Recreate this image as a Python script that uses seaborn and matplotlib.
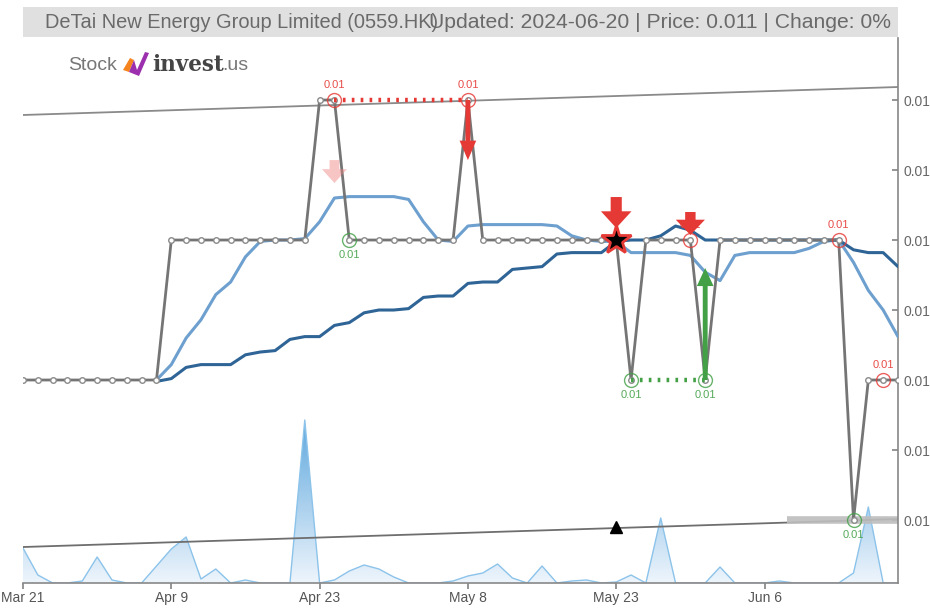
import numpy as np
import pandas as pd
import seaborn as sns
import matplotlib.pyplot as plt
from matplotlib.patches import Rectangle, Polygon
from matplotlib.colors import LinearSegmentedColormap

# ==========================================
# DATA
# ==========================================

tick_days = [0, 10, 20, 30, 40, 50]
tick_labels = ["Mar 21", "Apr 9", "Apr 23", "May 8", "May 23", "Jun 6"]

price = [
    0.011, 0.011, 0.011, 0.011, 0.011, 0.011, 0.011, 0.011, 0.011, 0.011,
    0.012, 0.012, 0.012, 0.012, 0.012, 0.012, 0.012, 0.012, 0.012, 0.012,
    0.013, 0.013, 0.012, 0.012, 0.012, 0.012, 0.012, 0.012, 0.012, 0.012,
    0.013, 0.012, 0.012, 0.012, 0.012, 0.012, 0.012, 0.012, 0.012, 0.012,
    0.012, 0.011, 0.012, 0.012, 0.012, 0.012, 0.011, 0.012, 0.012, 0.012,
    0.012, 0.012, 0.012, 0.012, 0.012, 0.012, 0.010, 0.011, 0.011, 0.011,
]

# moving averages start at day 9
ma_start = 9
ma_short = [
    0.01100, 0.01111, 0.01130, 0.01143, 0.01161, 0.01170, 0.01188, 0.01199,
    0.01200, 0.01200, 0.01201, 0.01213, 0.01230, 0.01231, 0.01231, 0.01231,
    0.01231, 0.01229, 0.01213, 0.01200, 0.01199, 0.01210, 0.01211, 0.01211,
    0.01211, 0.01211, 0.01211, 0.01210, 0.01203, 0.01200, 0.01199, 0.01199,
    0.01191, 0.01191, 0.01191, 0.01191, 0.01189, 0.01177, 0.01171, 0.01189,
    0.01191, 0.01191, 0.01191, 0.01191, 0.01194, 0.01199, 0.01200, 0.01184,
    0.01164, 0.01150, 0.01131,
]
ma_long = [
    0.01099, 0.01101, 0.01109, 0.01111, 0.01111, 0.01111, 0.01118, 0.01120,
    0.01121, 0.01129, 0.01131, 0.01131, 0.01139, 0.01141, 0.01148, 0.01150,
    0.01150, 0.01151, 0.01159, 0.01160, 0.01160, 0.01169, 0.01170, 0.01170,
    0.01179, 0.01180, 0.01181, 0.01190, 0.01191, 0.01191, 0.01191, 0.01199,
    0.01200, 0.01200, 0.01203, 0.01210, 0.01207, 0.01200, 0.01200, 0.01200,
    0.01200, 0.01200, 0.01200, 0.01200, 0.01200, 0.01200, 0.01200, 0.01193,
    0.01191, 0.01191, 0.01181,
]

# volume, millions of shares
volume = [
    3.5, 0.8, 0.0, 0.0, 0.2, 2.6, 0.3, 0.0, 0.0, 1.7,
    3.4, 4.6, 0.4, 1.4, 0.0, 0.3, 0.0, 0.0, 0.0, 16.3,
    0.0, 0.3, 1.2, 1.8, 1.4, 0.6, 0.0, 0.0, 0.0, 0.2,
    0.7, 1.0, 1.9, 0.5, 0.0, 1.7, 0.0, 0.2, 0.3, 0.0,
    0.1, 0.8, 0.0, 6.5, 0.0, 0.0, 0.0, 1.6, 0.0, 0.0,
    0.0, 0.2, 0.0, 0.0, 0.0, 0.0, 1.0, 7.6, 0.0, 0.0,
]

# trend channel (start / end values)
upper_trend = [0.012893, 0.013093]
lower_trend = [0.009807, 0.010007]
support_level = 0.0100
support_from = 51.5

high_days = [21, 30, 45, 55, 58]
low_days = [22, 41, 46, 56]

star_day = 40
triangle_day = 40
triangle_value = 0.00995

days = list(range(len(price)))
df = pd.DataFrame({"day": days, "price": price, "volume": volume})
df_ma = pd.DataFrame({
    "day": list(range(ma_start, ma_start + len(ma_short))),
    "short": ma_short,
    "long": ma_long,
})

RED = "#e53935"
GREEN = "#43a047"
GRAY = "#757575"

# ==========================================
# FIGURE
# ==========================================

sns.set_theme(style="white")
plt.rcParams["font.family"] = ["Liberation Sans", "DejaVu Sans"]

fig = plt.figure(figsize=(9.3, 6.08), dpi=100)
ax = fig.add_axes([23 / 930, 25 / 608, 875 / 930, 545 / 608])
ax_vol = ax.twinx()
ax.set_zorder(ax_vol.get_zorder() + 1)
ax.patch.set_visible(False)

# ---------- volume ----------
fill = ax_vol.fill_between(df["day"], df["volume"], 0,
                           facecolor="none", edgecolor="none")
cmap = LinearSegmentedColormap.from_list("vol", ["#eef5fc", "#5fa8de"])
grad = np.linspace(0, 1, 256).reshape(-1, 1)
im = ax_vol.imshow(grad, extent=[0, 59, 0, max(volume)], origin="lower",
                   aspect="auto", cmap=cmap, zorder=1)
im.set_clip_path(fill.get_paths()[0], transform=ax_vol.transData)
sns.lineplot(data=df, x="day", y="volume", ax=ax_vol,
             color="#8cc3ea", linewidth=1.0, zorder=2)
ax_vol.set_ylim(0, max(volume) * 545 / 163)
ax_vol.set_xlim(0, 59)
ax_vol.set_yticks([])
ax_vol.set_ylabel("")
for s in ax_vol.spines.values():
    s.set_visible(False)

# ---------- trend lines ----------
ax.plot([0, 59], upper_trend, color="#8a8a8a", linewidth=1.3, zorder=2)
ax.plot([0, 59], lower_trend, color="#6e6e6e", linewidth=1.3, zorder=2)
ax.plot([support_from, 59], [support_level, support_level],
        color="#bdbdbd", linewidth=5.5, alpha=0.9, zorder=2,
        solid_capstyle="butt")

# ---------- moving averages ----------
sns.lineplot(data=df_ma, x="day", y="short", ax=ax,
             color="#6d9fcf", linewidth=2.2, zorder=3)
sns.lineplot(data=df_ma, x="day", y="long", ax=ax,
             color="#2f6496", linewidth=2.2, zorder=3)

# ---------- price ----------
sns.lineplot(data=df, x="day", y="price", ax=ax, color=GRAY,
             linewidth=2.0, marker="o", markersize=4,
             markerfacecolor="white", markeredgecolor="#8a8a8a",
             markeredgewidth=1.0, zorder=4)

# ---------- swing highs / lows ----------
ax.plot([high_days[0], high_days[1]], [price[high_days[0]], price[high_days[1]]],
        color=RED, linewidth=3.2, linestyle=(0, (0.6, 1.4)), zorder=5)
ax.plot([low_days[1], low_days[2]], [price[low_days[1]], price[low_days[2]]],
        color=GREEN, linewidth=3.2, linestyle=(0, (0.6, 1.4)), zorder=5)

for d in high_days:
    ax.plot(d, price[d], marker="o", markersize=10, markerfacecolor="none",
            markeredgecolor=RED, markeredgewidth=1.0, alpha=0.8, zorder=6)
    ax.annotate("0.01", (d, price[d]), xytext=(0, 7),
                textcoords="offset points", ha="center", va="bottom",
                fontsize=8, color=RED, alpha=0.9, zorder=6)
for d in low_days:
    ax.plot(d, price[d], marker="o", markersize=10, markerfacecolor="none",
            markeredgecolor=GREEN, markeredgewidth=1.0, alpha=0.8, zorder=6)
    ax.annotate("0.01", (d, price[d]), xytext=(0, -7),
                textcoords="offset points", ha="center", va="top",
                fontsize=8, color=GREEN, alpha=0.9, zorder=6)

# ---------- signal arrows ----------
def arrow(x, y_from, y_to, color, hl, hw, tw, alpha=1.0):
    ax.annotate("", xy=(x, y_to), xytext=(x, y_from),
                arrowprops=dict(arrowstyle=f"simple,head_length={hl},"
                                f"head_width={hw},tail_width={tw}",
                                color=color, alpha=alpha, mutation_scale=1,
                                shrinkA=0, shrinkB=0, linewidth=0),
                zorder=7)

arrow(21, 0.012571, 0.012407, "#f08080", 10, 18, 7, alpha=0.45)
arrow(30, 0.013, 0.012571, RED, 14, 12, 3.5)
arrow(40, 0.012307, 0.012086, RED, 12, 22, 8)
arrow(45, 0.012200, 0.012036, RED, 11, 21, 7.5)
arrow(46, 0.011, 0.0118, GREEN, 13, 12, 3.5)

ax.plot(star_day, price[star_day], marker="*", markersize=22,
        markerfacecolor="black", markeredgecolor=RED, markeredgewidth=2.0,
        zorder=8)
ax.plot(triangle_day, triangle_value, marker="^", markersize=8,
        color="black", zorder=8)

# ---------- axes styling ----------
ax.set_xlim(0, 59)
ax.set_ylim(0.00955, 0.013443)
ax.set_xticks(tick_days)
ax.set_xticklabels(tick_labels)
ax.set_yticks([0.010, 0.0105, 0.011, 0.0115, 0.012, 0.0125, 0.013])
ax.yaxis.set_major_formatter(plt.FormatStrFormatter("%.2f"))
ax.yaxis.tick_right()
ax.tick_params(axis="y", direction="in", length=4.3, color="#888888",
               labelcolor="#666666", labelsize=10, pad=4, right=True)
ax.tick_params(axis="x", direction="out", length=4.3, color="#888888",
               labelcolor="#555555", labelsize=10, pad=1.5, bottom=True)
ax.set_xlabel("")
ax.set_ylabel("")
for name, s in ax.spines.items():
    s.set_visible(name in ("right", "bottom"))
    s.set_color("#888888")
    s.set_linewidth(1.2)

# ---------- header ----------
fig.add_artist(Rectangle((23 / 930, 1 - 37 / 608), 875 / 930, 30 / 608,
                         transform=fig.transFigure, facecolor="#e0e0e0",
                         edgecolor="none", zorder=0))
fig.text(45 / 930, 1 - 22 / 608, "DeTai New Energy Group Limited (0559.HK)",
         ha="left", va="center", fontsize=14.4, color="#6a6a6a")
fig.text(891 / 930, 1 - 22 / 608,
         "Updated: 2024-06-20 | Price: 0.011 | Change: 0%",
         ha="right", va="center", fontsize=15.2, color="#6a6a6a")

# ---------- logo ----------
fig.text(68 / 930, 1 - 65 / 608, "Stock", ha="left", va="center",
         fontsize=14, color="#777777")
fig.add_artist(Polygon([(123 / 930, 1 - 70 / 608), (130 / 930, 1 - 58 / 608),
                        (134 / 930, 1 - 60 / 608), (129 / 930, 1 - 72 / 608)],
                       closed=True, transform=fig.transFigure,
                       facecolor="#f5841f", edgecolor="none"))
fig.add_artist(Polygon([(129 / 930, 1 - 72 / 608), (134 / 930, 1 - 60 / 608),
                        (137 / 930, 1 - 70 / 608), (145 / 930, 1 - 52 / 608),
                        (149 / 930, 1 - 53 / 608), (139 / 930, 1 - 76 / 608)],
                       closed=True, transform=fig.transFigure,
                       facecolor="#9b2fae", edgecolor="none"))
fig.text(152 / 930, 1 - 65 / 608, "invest", ha="left", va="center",
         fontsize=15.5, fontweight="bold", color="#454545",
         family=["DejaVu Serif"])
fig.text(222 / 930, 1 - 65 / 608, ".us", ha="left", va="center",
         fontsize=14, color="#777777")

fig.savefig("out.png", dpi=100)
